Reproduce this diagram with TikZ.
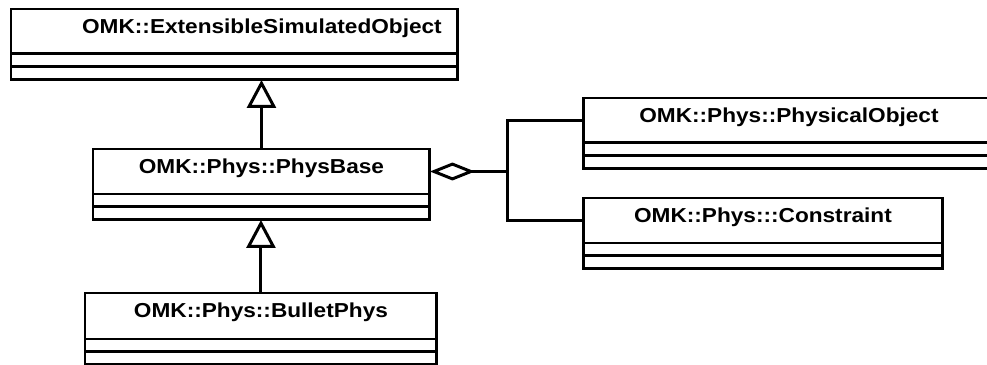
\documentclass[tikz,border=0pt]{standalone}
\usepackage{fontspec}
\usepackage{tikz}
\usetikzlibrary{positioning,arrows.meta}
\newfontfamily\umlfont{Liberation Sans}[FakeStretch=1.12]

\begin{document}
\begin{tikzpicture}[
  x=0.02cm, y=-0.02cm,
  node distance=0pt,
  cbox/.style={draw,line width=1.7pt,outer sep=0pt,inner sep=0pt,anchor=north west},
  ctitle/.style={cbox,minimum width=#1,text height=0.49cm,text depth=0.41cm,
    font=\umlfont\bfseries\fontsize{11.5}{13}\selectfont},
  ccomp/.style={cbox,minimum width=#1,minimum height=0.26cm},
  link/.style={line width=1.7pt},
  gen/.style={link,-{Triangle[open,length=0.56cm,width=0.58cm]}},
  agg/.style={link,{Diamond[open,length=0.9cm,width=0.36cm]}-}
]
  \useasboundingbox (0,0) rectangle (987,365);
  \clip (0,0) rectangle (987,365);
  \fill[white] (0,0) rectangle (987,365);
  % classes
  \node[ctitle=8.94cm] (eso) at (11,9) {\hspace*{1.1cm}OMK::ExtensibleSimulatedObject};
  \node[ccomp=8.94cm,below=of eso] (eso-a) {};
  \node[ccomp=8.94cm,below=of eso-a] (eso-o) {};
  \node[ctitle=6.74cm] (pb) at (93,149) {OMK::Phys::PhysBase};
  \node[ccomp=6.74cm,below=of pb] (pb-a) {};
  \node[ccomp=6.74cm,below=of pb-a] (pb-o) {};
  \node[ctitle=8.24cm] (po) at (583,98) {OMK::Phys::PhysicalObject};
  \node[ccomp=8.24cm,below=of po] (po-a) {};
  \node[ccomp=8.24cm,below=of po-a] (po-o) {};
  \node[ctitle=7.2cm] (con) at (583,198) {OMK::Phys:::Constraint};
  \node[ccomp=7.2cm,below=of con] (con-a) {};
  \node[ccomp=7.2cm,below=of con-a] (con-o) {};
  \node[ctitle=7.04cm,text depth=0.43cm] (bp) at (85,293) {OMK::Phys::BulletPhys};
  \node[ccomp=7.04cm,below=of bp] (bp-a) {};
  \node[ccomp=7.04cm,below=of bp-a] (bp-o) {};
  % relations
  \draw[gen] (pb.north) -- (pb.north |- eso-o.south);
  \draw[gen] (bp.north) -- (bp.north |- pb-o.south);
  \coordinate (hub) at (507,171.5);
  \draw[agg] (pb.east) -- (hub);
  \draw[link] (po.west) -| (hub) |- (con.west);
\end{tikzpicture}
\end{document}
